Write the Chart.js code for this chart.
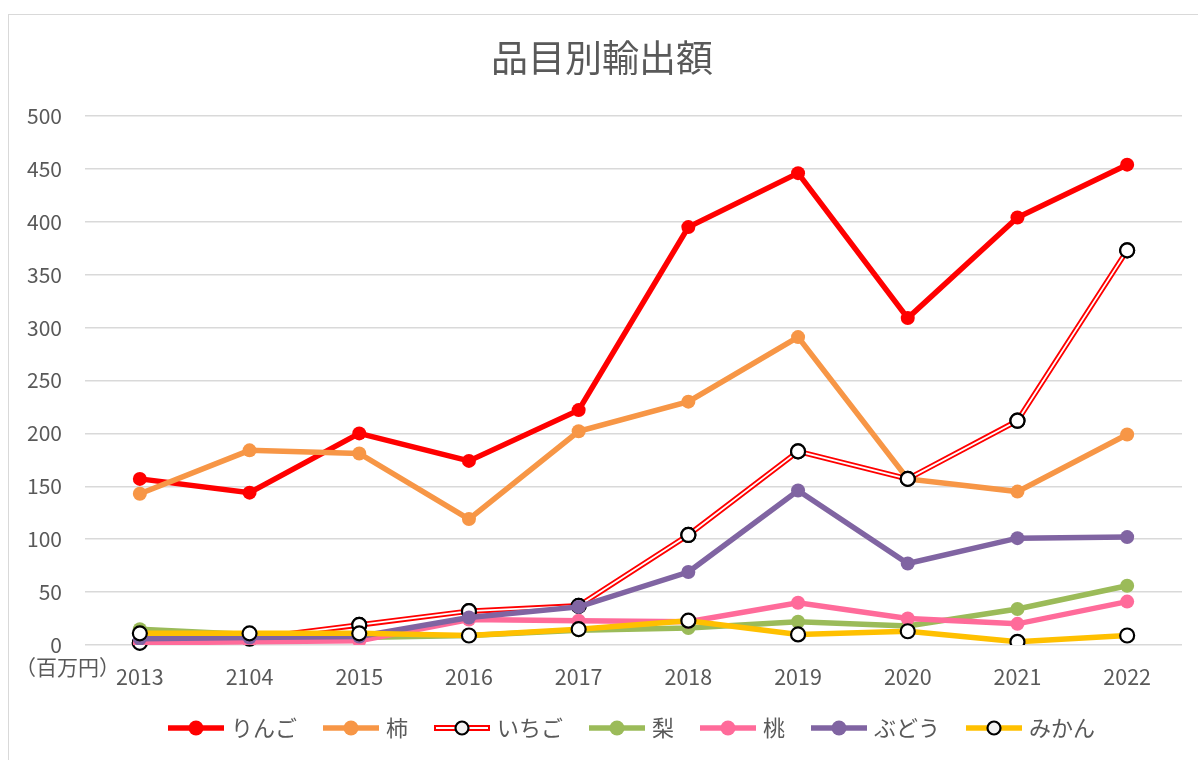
<!DOCTYPE html>
<html>
<head>
<meta charset="utf-8">
<script src="https://cdn.jsdelivr.net/npm/chart.js@4.4.0/dist/chart.umd.min.js"></script>
<style>
  html, body { margin: 0; padding: 0; background: #fff; }
  body { width: 1198px; height: 760px; position: relative; overflow: hidden; }
  #frame { position: absolute; left: 8px; top: 14px; width: 1300px; height: 900px; border: 1.5px solid #d9d9d9; box-sizing: border-box; }
  #wrap { position: absolute; left: 0; top: 0; width: 1198px; height: 760px; }
</style>
</head>
<body>
<div id="frame"></div>
<div id="wrap"><canvas id="c" width="1198" height="760"></canvas></div>
<script>
const years = ['2013','2104','2015','2016','2017','2018','2019','2020','2021','2022'];
const ringo  = [157, 144, 200, 174, 222, 395, 446, 309, 404, 454];
const kaki   = [143, 184, 181, 119, 202, 230, 291, 157, 145, 199];
const ichigo = [2, 6, 19, 32, 37, 104, 183, 157, 212, 373];
const nashi  = [15, 10, 7, 9, 14, 16, 22, 18, 34, 56];
const momo   = [2, 3, 4, 24, 23, 22, 40, 25, 20, 41];
const budou  = [6, 7, 8, 26, 36, 69, 146, 77, 101, 102];
const mikan  = [11, 11, 11, 9, 15, 23, 10, 13, 3, 9];
const seriesNames = ['りんご','柿','いちご','梨','桃','ぶどう','みかん'];
const yTicks = [0, 50, 100, 150, 200, 250, 300, 350, 400, 450, 500];
const unitLabel = '（百万円）';
const chartTitle = '品目別輸出額';

const FONT = "'Noto Sans CJK JP', 'Noto Sans', sans-serif";
const GRAY = '#595959';

function icon(color, opts) {
  const c = document.createElement('canvas');
  c.width = 56; c.height = 20;
  const g = c.getContext('2d');
  const y = 10;
  g.lineCap = 'butt';
  g.strokeStyle = color; g.lineWidth = opts.double ? 6 : 5.5;
  g.beginPath(); g.moveTo(0, y); g.lineTo(56, y); g.stroke();
  if (opts.double) {
    g.strokeStyle = '#fff'; g.lineWidth = 2;
    g.beginPath(); g.moveTo(2, y); g.lineTo(54, y); g.stroke();
  }
  g.beginPath(); g.arc(28, y, opts.hollow ? 6.5 : 7.5, 0, Math.PI * 2);
  if (opts.hollow) { g.fillStyle = '#f2f2f2'; g.fill(); g.lineWidth = 2.2; g.strokeStyle = '#000'; g.stroke(); }
  else { g.fillStyle = color; g.fill(); }
  return c;
}

function mk(label, data, color, idx, hollow, dbl) {
  return {
    label, data,
    borderColor: color,
    backgroundColor: color,
    borderWidth: 5.5,
    pointRadius: 7,
    pointBorderWidth: hollow ? 2.2 : 0,
    pointBackgroundColor: hollow ? '#ffffff' : color,
    pointBorderColor: hollow ? '#000000' : color,
    pointHoverRadius: 7,
    tension: 0,
    order: 10 - idx,
    doubleLine: !!dbl,
    legendIcon: icon(color, {hollow, double: dbl})
  };
}

const datasets = [
  mk(seriesNames[0], ringo,  '#ff0000', 0, false, false),
  mk(seriesNames[1], kaki,   '#f79646', 1, false, false),
  mk(seriesNames[2], ichigo, '#ff0000', 2, true, true),
  mk(seriesNames[3], nashi,  '#9bbb59', 3, false, false),
  mk(seriesNames[4], momo,   '#ff6b9a', 4, false, false),
  mk(seriesNames[5], budou,  '#8064a2', 5, false, false),
  mk(seriesNames[6], mikan,  '#ffc000', 6, true, false)
];

const doubleLine = {
  id: 'doubleLine',
  afterDatasetDraw(chart, args) {
    const ds = chart.data.datasets[args.index];
    if (!ds.doubleLine) return;
    const pts = args.meta.data;
    const ctx = chart.ctx;
    ctx.save();
    ctx.strokeStyle = '#ffffff';
    ctx.lineWidth = 1.8;
    ctx.lineJoin = 'round';
    ctx.beginPath();
    pts.forEach((p, i) => i ? ctx.lineTo(p.x, p.y) : ctx.moveTo(p.x, p.y));
    ctx.stroke();
    pts.forEach(p => p.draw(ctx, chart.chartArea));
    ctx.restore();
  }
};

const unitPlugin = {
  id: 'unit',
  afterDraw(chart) {
    const ctx = chart.ctx;
    ctx.save();
    ctx.font = '21px ' + FONT;
    ctx.fillStyle = GRAY;
    ctx.textAlign = 'left';
    ctx.textBaseline = 'middle';
    ctx.fillText(unitLabel, 15, 667);
    ctx.restore();
  }
};

new Chart(document.getElementById('c'), {
  type: 'line',
  data: { labels: years, datasets },
  plugins: [doubleLine, unitPlugin],
  options: {
    responsive: false,
    animation: false,
    events: [],
    layout: { padding: { left: 22, right: 16, top: 0, bottom: 11 } },
    plugins: {
      title: {
        display: true,
        text: chartTitle,
        color: GRAY,
        font: { family: FONT, size: 37, weight: 'normal', lineHeight: 1.2 },
        padding: { top: 36, bottom: 35.6 }
      },
      legend: {
        position: 'bottom',
        fullSize: false,
        labels: {
          usePointStyle: true,
          pointStyleWidth: 48,
          padding: 30,
          color: GRAY,
          font: { family: FONT, size: 22 },
          sort: (a, b) => a.datasetIndex - b.datasetIndex,
          generateLabels(chart) {
            const items = Chart.defaults.plugins.legend.labels.generateLabels(chart);
            items.forEach(it => { it.pointStyle = chart.data.datasets[it.datasetIndex].legendIcon; });
            return items;
          }
        }
      },
      tooltip: { enabled: false }
    },
    scales: {
      x: {
        offset: true,
        grid: { display: false, drawTicks: false },
        border: { display: false },
        ticks: { color: GRAY, font: { family: FONT, size: 21.5 }, padding: 19, maxRotation: 0 },
        afterFit(s) { s.height = 42; }
      },
      y: {
        min: 0, max: 500,
        afterBuildTicks(s) { s.ticks = yTicks.map(v => ({ value: v })); },
        grid: { color: '#d9d9d9', lineWidth: 1.5, drawTicks: false },
        border: { display: false },
        ticks: { color: GRAY, font: { family: FONT, size: 21 }, padding: 23 },
        afterFit(s) { s.width = 63; }
      }
    }
  }
});
</script>
</body>
</html>
